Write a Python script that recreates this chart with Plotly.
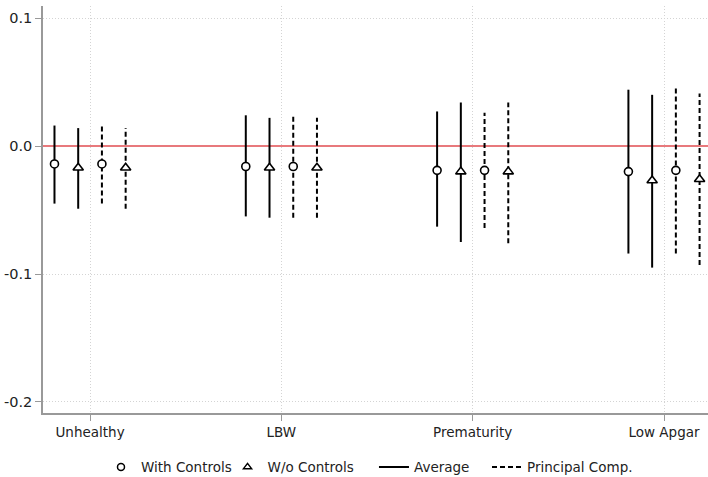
import plotly.graph_objects as go

categories = ["Unhealthy", "LBW", "Prematurity", "Low Apgar"]

# With controls, Average
wc_avg_est = [-0.014, -0.016, -0.019, -0.020]
wc_avg_lo = [-0.045, -0.055, -0.063, -0.084]
wc_avg_hi = [0.016, 0.024, 0.027, 0.044]
# Without controls, Average
nc_avg_est = [-0.017, -0.017, -0.020, -0.027]
nc_avg_lo = [-0.049, -0.056, -0.075, -0.095]
nc_avg_hi = [0.014, 0.022, 0.034, 0.040]
# With controls, Principal Comp.
wc_pc_est = [-0.014, -0.016, -0.019, -0.019]
wc_pc_lo = [-0.045, -0.056, -0.064, -0.084]
wc_pc_hi = [0.016, 0.023, 0.026, 0.045]
# Without controls, Principal Comp.
nc_pc_est = [-0.017, -0.017, -0.020, -0.026]
nc_pc_lo = [-0.049, -0.056, -0.076, -0.093]
nc_pc_hi = [0.014, 0.022, 0.034, 0.041]

ytick_vals = [-0.2, -0.1, 0.0, 0.1]
ytick_text = ["-0.2", "-0.1", "0.0", "0.1"]

series = [
    (wc_avg_est, wc_avg_lo, wc_avg_hi, -0.186, "solid", "circle"),
    (nc_avg_est, nc_avg_lo, nc_avg_hi, -0.062, "solid", "triangle-up"),
    (wc_pc_est, wc_pc_lo, wc_pc_hi, 0.062, "5px,3px", "circle"),
    (nc_pc_est, nc_pc_lo, nc_pc_hi, 0.186, "5px,3px", "triangle-up"),
]

fig = go.Figure()
for est, lo, hi, off, dash, sym in series:
    xs, ys = [], []
    for i in range(len(categories)):
        xs += [i + off, i + off, None]
        ys += [lo[i], hi[i], None]
    fig.add_trace(go.Scatter(x=xs, y=ys, mode="lines", showlegend=False,
                             line=dict(color="black", width=2, dash=dash),
                             hoverinfo="skip"))
for est, lo, hi, off, dash, sym in series:
    fig.add_trace(go.Scatter(x=[i + off for i in range(len(categories))], y=est,
                             mode="markers", showlegend=False,
                             marker=dict(symbol=sym, size=8 if sym == "circle" else 9,
                                         color="white", line=dict(width=1.6, color="black"))))

font = "DejaVu Sans, Verdana, sans-serif"

# legend entries, each in its own legend box so they can be spaced like the original
fig.add_trace(go.Scatter(x=[None], y=[None], mode="markers", name="With Controls",
                         legend="legend",
                         marker=dict(symbol="circle", size=7, color="white",
                                     line=dict(width=1.5, color="black"))))
fig.add_trace(go.Scatter(x=[None], y=[None], mode="markers", name="W/o Controls",
                         legend="legend2",
                         marker=dict(symbol="triangle-up", size=7, color="white",
                                     line=dict(width=1.5, color="black"))))
fig.add_trace(go.Scatter(x=[None], y=[None], mode="lines", name="Average",
                         legend="legend3",
                         line=dict(color="black", width=2)))
fig.add_trace(go.Scatter(x=[None], y=[None], mode="lines", name="Principal Comp.",
                         legend="legend4",
                         line=dict(color="black", width=2, dash="5px,3px")))

def leg(x):
    return dict(orientation="h", x=x, xanchor="left", y=-0.133, yanchor="middle",
                font=dict(size=13.5), itemwidth=30, bgcolor="rgba(0,0,0,0)")

fig.update_layout(
    width=708, height=477,
    margin=dict(l=43, r=0, t=6, b=64, autoexpand=False),
    plot_bgcolor="white", paper_bgcolor="white",
    font=dict(family=font, size=13.5, color="#222"),
    showlegend=True,
    legend=leg(0.0872), legend2=leg(0.2775), legend3=leg(0.4977), legend4=leg(0.6677),
    xaxis=dict(range=[-0.246, 3.23], tickvals=list(range(len(categories))),
               ticktext=categories, showgrid=True, gridcolor="#d4d4d4", griddash="1px,2px",
               gridwidth=1, showline=True, linecolor="#999", linewidth=1.5,
               ticks="outside", ticklen=6, tickcolor="#999", zeroline=False,
               automargin=False, tickfont=dict(size=13.5)),
    yaxis=dict(range=[-0.2086, 0.1094], tickvals=ytick_vals, ticktext=ytick_text,
               showgrid=True, gridcolor="#d4d4d4", griddash="1px,2px", gridwidth=1,
               showline=True, linecolor="#999", linewidth=1.5, ticks="outside",
               ticklen=6, tickcolor="#999", zeroline=True, zerolinecolor="#e8797c",
               zerolinewidth=1.5, automargin=False, tickfont=dict(size=14.5)),
)
fig.write_html("out.html", config={"displayModeBar": False},
               post_script="document.body.style.margin='0';document.body.style.overflow='hidden';")
